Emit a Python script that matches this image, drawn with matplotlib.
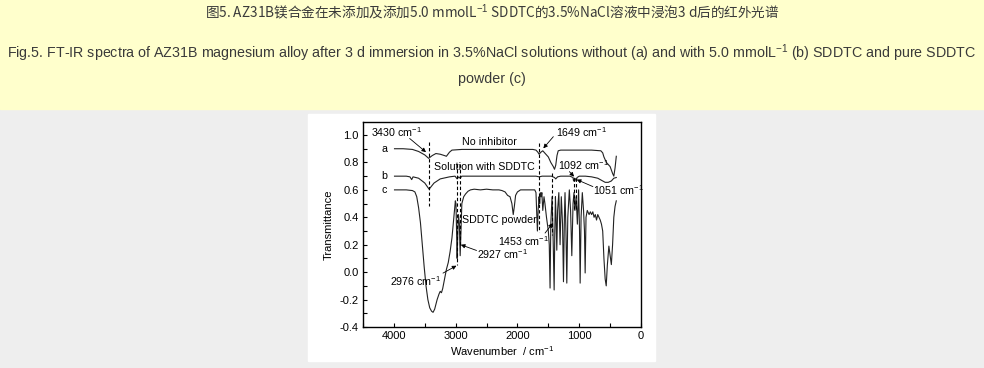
import matplotlib
matplotlib.use("Agg")
import matplotlib.pyplot as plt
from matplotlib.patches import Rectangle
from matplotlib.ticker import MultipleLocator

plt.rcParams["font.family"] = ["Liberation Sans", "DejaVu Sans"]
plt.rcParams["mathtext.fontset"] = "custom"
plt.rcParams["mathtext.rm"] = "Liberation Sans"
plt.rcParams["mathtext.it"] = "Liberation Sans"

# curve a: no inhibitor
wn_a = [3990, 3850, 3700, 3600, 3500, 3437, 3380, 3320, 3250, 3180, 3150, 3100, 3060, 2900, 2500,
        2000, 1750, 1700, 1670, 1649, 1620, 1590, 1560, 1500, 1460, 1420, 1400, 1380, 1360, 1340,
        1300, 1000, 800, 650, 620, 600, 560, 500, 460, 440, 420, 400]
t_a = [0.90, 0.90, 0.895, 0.88, 0.855, 0.83, 0.85, 0.865, 0.86, 0.85, 0.845, 0.875, 0.89, 0.895, 0.895,
       0.895, 0.895, 0.89, 0.875, 0.86, 0.875, 0.885, 0.87, 0.84, 0.80, 0.77, 0.75, 0.78, 0.85, 0.885,
       0.89, 0.89, 0.89, 0.885, 0.87, 0.84, 0.80, 0.77, 0.72, 0.70, 0.76, 0.845]

# curve b: solution with SDDTC
wn_b = [3990, 3800, 3740, 3712, 3690, 3600, 3500, 3430, 3350, 3250, 3100, 3010, 2976, 2950, 2927,
        2900, 2500, 2000, 1700, 1649, 1600, 1450, 1400, 1380, 1350, 1300, 1150, 1100, 1092, 1075,
        1060, 1051, 1035, 1000, 900, 800, 700, 620, 580, 530, 480, 440, 400]
t_b = [0.70, 0.70, 0.695, 0.675, 0.695, 0.685, 0.65, 0.605, 0.65, 0.68, 0.695, 0.70, 0.68, 0.695, 0.685,
       0.70, 0.70, 0.70, 0.70, 0.695, 0.70, 0.70, 0.69, 0.68, 0.695, 0.70, 0.70, 0.69, 0.665, 0.685,
       0.68, 0.665, 0.69, 0.70, 0.70, 0.695, 0.685, 0.665, 0.655, 0.655, 0.665, 0.685, 0.69]

# curve c: SDDTC powder
wn_c = [3990, 3800, 3700, 3660, 3630, 3600, 3570, 3540, 3510, 3480, 3450, 3420, 3390, 3366, 3340,
        3300, 3270, 3250, 3230, 3210, 3180, 3150, 3120, 3090, 3060, 3040, 3020, 3005, 2995, 2985,
        2976, 2968, 2955, 2940, 2927, 2915, 2900, 2870, 2840, 2800, 2760, 2700, 2600, 2500, 2400,
        2300, 2250, 2200, 2160, 2120, 2090, 2068, 2050, 2030, 2000, 1950, 1800, 1720, 1700, 1685,
        1677, 1665, 1650, 1640, 1630, 1615, 1605, 1590, 1570, 1555, 1530, 1500, 1485, 1472, 1460,
        1440, 1425, 1406, 1395, 1385, 1375, 1363, 1350, 1330, 1310, 1290, 1270, 1255, 1240, 1230,
        1215, 1201, 1185, 1160, 1140, 1120, 1100, 1085, 1070, 1050, 1030, 1010, 995, 985, 970,
        950, 930, 915, 904, 890, 870, 840, 820, 800, 780, 760, 740, 720, 700, 680, 660, 640,
        620, 600, 580, 563, 545, 520, 500, 480, 460, 440, 420, 400]
t_c = [0.60, 0.60, 0.595, 0.585, 0.55, 0.47, 0.36, 0.20, 0.04, -0.10, -0.20, -0.26, -0.285, -0.293, -0.27,
       -0.20, -0.16, -0.14, -0.15, -0.12, -0.05, 0.02, 0.07, 0.15, 0.25, 0.35, 0.45, 0.52, 0.50, 0.30,
       0.10, 0.25, 0.42, 0.35, 0.12, 0.30, 0.50, 0.55, 0.57, 0.59, 0.60, 0.605, 0.60, 0.605, 0.60,
       0.60, 0.595, 0.585, 0.56, 0.55, 0.50, 0.42, 0.48, 0.56, 0.585, 0.60, 0.60, 0.60, 0.58, 0.40,
       0.30, 0.45, 0.55, 0.50, 0.58, 0.55, 0.58, 0.45, 0.55, 0.50, 0.40, 0.30, 0.20, -0.116, 0.35,
       0.55, 0.30, -0.13, 0.30, 0.55, 0.40, 0.16, 0.45, 0.58, 0.20, 0.55, 0.35, -0.07, 0.40, 0.58,
       0.30, -0.08, 0.40, 0.60, 0.45, 0.12, 0.50, 0.58, 0.45, 0.55, 0.35, 0.60, 0.30, -0.08, 0.40,
       0.58, 0.45, 0.30, -0.006, 0.40, 0.45, 0.42, 0.44, 0.42, 0.44, 0.40, 0.42, 0.38, 0.42, 0.40, 0.38, 0.35,
       0.30, 0.10, -0.05, -0.10, 0.05, 0.19, 0.12, 0.055, 0.20, 0.40, 0.48, 0.52]

fig = plt.figure(figsize=(9.84, 3.68), dpi=100)
W, H = 984, 368
fig.patches.append(Rectangle((0, 0), 1, 1, transform=fig.transFigure, color="#eeeeee", zorder=-3))
fig.patches.append(Rectangle((0, 1 - 109 / H), 1, 109 / H, transform=fig.transFigure,
                             color="#ffffcc", zorder=-2))
fig.patches.append(Rectangle((308 / W, 1 - 361 / H), 347 / W, 247 / H, transform=fig.transFigure,
                             color="white", zorder=-2))

cap = "#3a3a3a"
fig.text(0.5, 1 - 12 / H, "图5. AZ31B镁合金在未添加及添加5.0 mmolL$^{-1}$ SDDTC的3.5%NaCl溶液中浸泡3 d后的红外光谱",
         ha="center", va="center", fontsize=9.8, color=cap,
         family=["Noto Sans CJK SC", "DejaVu Sans"])
fig.text(0.5, 1 - 53 / H, "Fig.5. FT-IR spectra of AZ31B magnesium alloy after 3 d immersion in 3.5%NaCl "
         "solutions without (a) and with 5.0 mmolL$^{-1}$ (b) SDDTC and pure SDDTC",
         ha="center", va="center", fontsize=10.3, color=cap)
fig.text(0.5, 1 - 79 / H, "powder (c)", ha="center", va="center", fontsize=10.3, color=cap)

ax = fig.add_axes([363 / W, 1 - 327 / H, 278 / W, 205 / H])
for wn, t in [(wn_a, t_a), (wn_b, t_b), (wn_c, t_c)]:
    ax.plot(wn, t, color="#222222", lw=0.8)

ax.set_xlim(4500, 0)
ax.set_ylim(-0.4, 1.095)
ax.xaxis.set_major_locator(MultipleLocator(1000))
ax.xaxis.set_minor_locator(MultipleLocator(500))
ax.yaxis.set_major_locator(MultipleLocator(0.2))
ax.yaxis.set_minor_locator(MultipleLocator(0.1))
ax.tick_params(which="both", direction="in", length=3, width=0.8, labelsize=8, pad=3)
ax.set_yticks([-0.4, -0.2, 0.0, 0.2, 0.4, 0.6, 0.8, 1.0])
ax.set_yticklabels(["-0.4", "-0.2", "0.0", "0.2", "0.4", "0.6", "0.8", "1.0"])
for s in ax.spines.values():
    s.set_linewidth(1)
ax.set_xlabel("Wavenumber  / cm$^{-1}$", fontsize=8, labelpad=2)
ax.set_ylabel("Transmittance", fontsize=8, labelpad=4)

# dashed marker lines: (wavenumber, y from, y to)
dash = dict(color="k", lw=0.8, ls=(0, (3, 2)))
for x, y0, y1 in [(3430, 0.95, 0.48), (1649, 0.94, 0.29), (1445, 0.72, 0.27),
                  (2976, 0.79, 0.05), (2927, 0.79, 0.20), (1092, 0.69, 0.45), (1051, 0.69, 0.45)]:
    ax.plot([x, x], [y0, y1], **dash)

fs = 7.7
for lab, y in [("a", 0.9), ("b", 0.7), ("c", 0.6)]:
    ax.text(4160, y, lab, fontsize=fs, ha="center", va="center")
ax.text(2446, 0.95, "No inhibitor", fontsize=fs, ha="center", va="center")
ax.text(2528, 0.77, "Solution with SDDTC", fontsize=fs, ha="center", va="center")
ax.text(2300, 0.38, "SDDTC powder", fontsize=fs, ha="center", va="center")

arrow = dict(arrowstyle="-|>", lw=0.6, color="k", mutation_scale=6, shrinkA=0, shrinkB=0)
notes = [("3430 cm$^{-1}$", (4367, 1.02), (3745, 0.975), (3480, 0.875)),
         ("1649 cm$^{-1}$", (1380, 1.02), (1419, 0.988), (1581, 0.903)),
         ("1092 cm$^{-1}$", (1338, 0.78), (1159, 0.733), (1083, 0.697)),
         ("1051 cm$^{-1}$", (770, 0.60), (779, 0.624), (1040, 0.675)),
         ("1453 cm$^{-1}$", (2316, 0.23), (1553, 0.285), (1429, 0.357)),
         ("2927 cm$^{-1}$", (2662, 0.134), (2662, 0.158), (2917, 0.20)),
         ("2976 cm$^{-1}$", (4070, -0.068), (3205, -0.007), (2987, 0.047))]
for txt, pos, tail, tip in notes:
    ax.text(pos[0], pos[1], txt, fontsize=fs, ha="left", va="center")
    ax.annotate("", xy=tip, xytext=tail, arrowprops=arrow)

fig.savefig("out.png", dpi=100)
